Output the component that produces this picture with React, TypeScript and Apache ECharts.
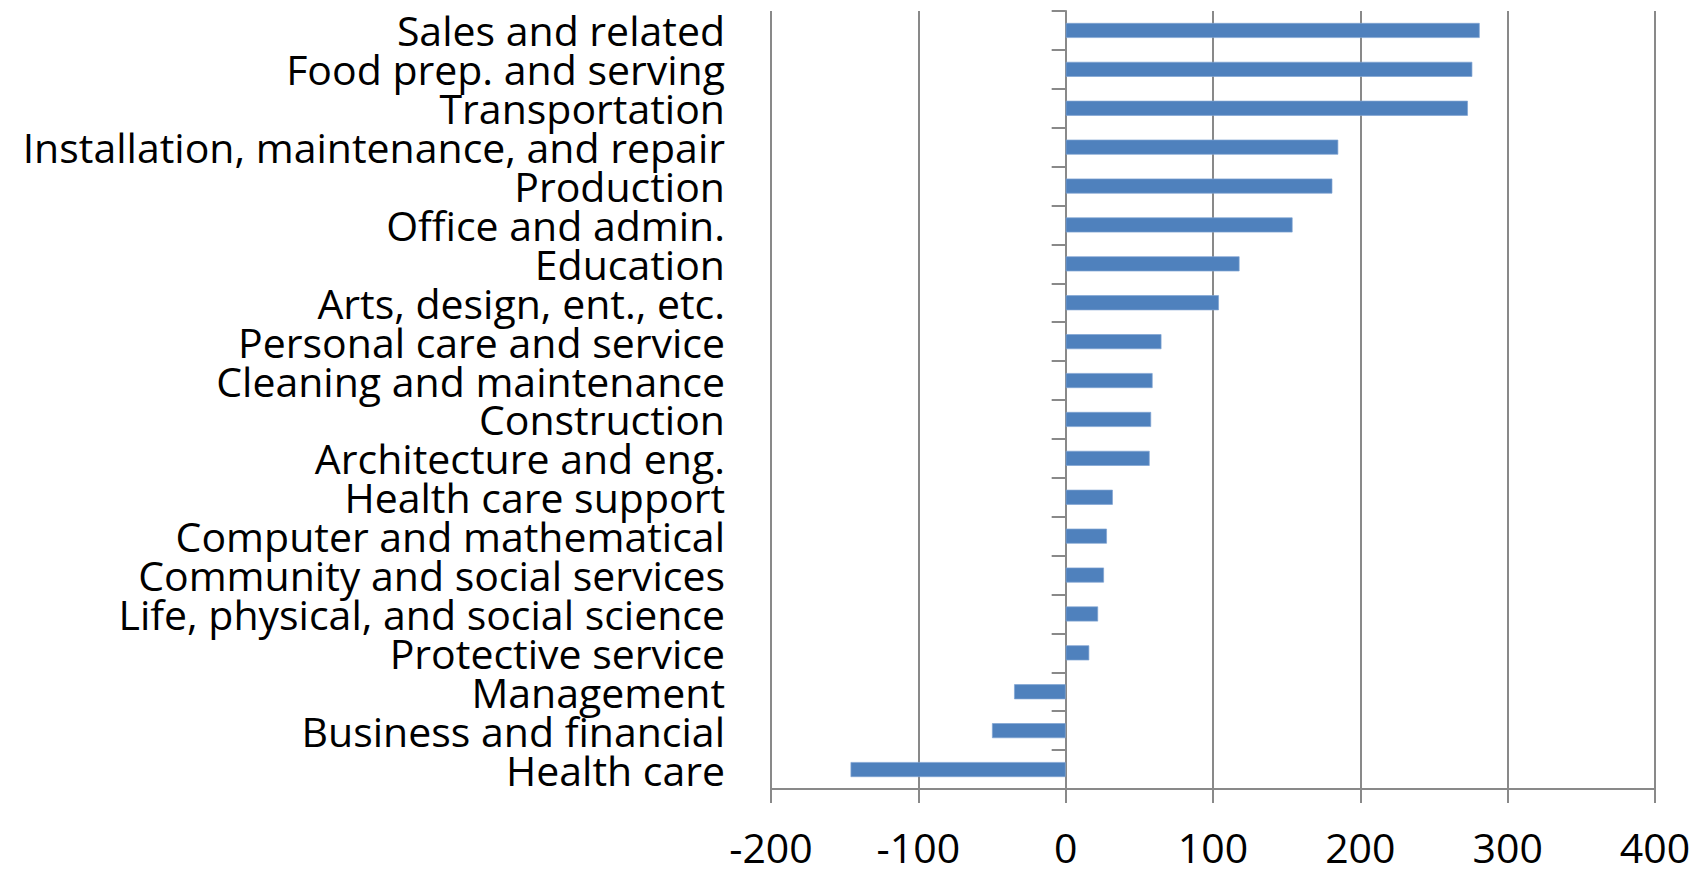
import React, { useEffect, useRef } from "react";
import * as echarts from "echarts";

const categories = [
  "Sales and related",
  "Food prep. and serving",
  "Transportation",
  "Installation, maintenance, and repair",
  "Production",
  "Office and admin.",
  "Education",
  "Arts, design, ent., etc.",
  "Personal care and service",
  "Cleaning and maintenance",
  "Construction",
  "Architecture and eng.",
  "Health care support",
  "Computer and mathematical",
  "Community and social services",
  "Life, physical, and social science",
  "Protective service",
  "Management",
  "Business and financial",
  "Health care",
];

const values = [281, 276, 273, 185, 181, 154, 118, 104, 65, 59, 58, 57, 32, 28, 26, 22, 16, -35, -50, -146];

const xMin = -200;
const xMax = 400;
const xStep = 100;

const FONT = "'Open Sans', sans-serif";
const GRAY = "#898989";

export default function App() {
  const ref = useRef<HTMLDivElement>(null);
  useEffect(() => {
    if (!ref.current) return;
    const chart = echarts.init(ref.current, undefined, { renderer: "svg" });
    chart.setOption({
      animation: false,
      backgroundColor: "#ffffff",
      grid: { left: 771, right: 52, top: 11, bottom: 80, containLabel: false },
      xAxis: {
        type: "value",
        min: xMin,
        max: xMax,
        interval: xStep,
        axisLine: { show: true, onZero: false, lineStyle: { color: GRAY, width: 2 } },
        axisTick: { show: true, length: 14, inside: false, lineStyle: { color: GRAY, width: 2 } },
        splitLine: { show: true, lineStyle: { color: GRAY, width: 2 } },
        axisLabel: { fontSize: 41, lineHeight: 36, color: "#000", fontFamily: FONT, margin: 40 },
      },
      yAxis: [
        {
          type: "category",
          data: categories,
          inverse: true,
          position: "left",
          axisLine: { show: false, onZero: false },
          axisTick: { show: false },
          axisLabel: { fontSize: 41, lineHeight: 36, color: "#000", fontFamily: FONT, margin: 46, interval: 0 },
        },
        {
          type: "category",
          data: categories,
          inverse: true,
          position: "left",
          axisLine: { show: true, onZero: true, lineStyle: { color: GRAY, width: 2 } },
          axisTick: { show: true, length: 14, lineStyle: { color: GRAY, width: 2 } },
          axisLabel: { show: false },
        },
      ],
      series: [
        {
          type: "bar",
          data: values,
          yAxisIndex: 0,
          barWidth: 15,
          itemStyle: { color: "#4F81BD", borderColor: "#7FA3D3", borderWidth: 0.7 },
        },
      ],
    });
    return () => chart.dispose();
  }, []);
  return (
    <div
      ref={ref}
      style={{ position: "fixed", left: 0, top: 0, width: 1707, height: 869, background: "#fff" }}
    />
  );
}
